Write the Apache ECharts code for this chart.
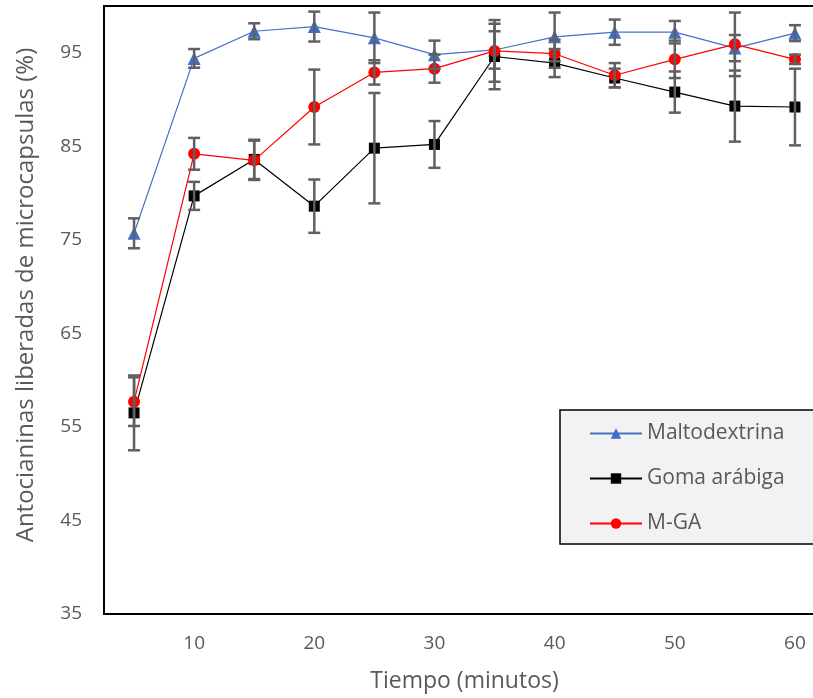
<!DOCTYPE html>
<html><head><meta charset="utf-8">
<script src="https://cdn.jsdelivr.net/npm/echarts@6/dist/echarts.min.js"></script>
<style>html,body{margin:0;padding:0;background:#fff}#c{width:813px;height:698px}</style>
</head><body><div id="c"></div>
<script>
const tiempo = [5, 10, 15, 20, 25, 30, 35, 40, 45, 50, 55, 60];
const xTicks = [10, 20, 30, 40, 50, 60];
const yTicks = [35, 45, 55, 65, 75, 85, 95];

const maltodextrina    = [75.7, 94.4, 97.3, 97.8, 96.6, 94.8, 95.3, 96.7, 97.2, 97.2, 95.5, 97.1];
const maltodextrinaErr = [1.6, 1.0, 0.85, 1.6, 2.7, 1.5, 2.0, 2.6, 1.35, 1.2, 1.4, 0.85];

const gomaArabiga    = [56.5, 79.7, 83.6, 78.6, 84.8, 85.2, 94.6, 93.9, 92.3, 90.8, 89.3, 89.2];
const gomaArabigaErr = [4.0, 1.5, 2.1, 2.85, 5.9, 2.5, 3.5, 1.5, 1.0, 2.2, 3.8, 4.1];

const mga    = [57.7, 84.2, 83.5, 89.2, 92.9, 93.3, 95.2, 94.9, 92.6, 94.3, 95.9, 94.3];
const mgaErr = [2.6, 1.7, 2.1, 4.0, 1.3, 1.5, 3.3, 1.5, 1.3, 2.0, 3.4, 0.5];

const seriesNames = ['Maltodextrina', 'Goma arábiga', 'M-GA'];

const FONT = 'Open Sans';
const TXT = '#595959';

function errRender(params, api) {
  const x = api.value(0), y = api.value(1), e = api.value(2);
  const top = api.coord([x, y + e]);
  const bot = api.coord([x, y - e]);
  const hw = 6;
  const style = { stroke: '#606060', lineWidth: 2.5 };
  return {
    type: 'group',
    children: [
      { type: 'line', shape: { x1: top[0], y1: top[1], x2: bot[0], y2: bot[1] }, style: style },
      { type: 'line', shape: { x1: top[0] - hw, y1: top[1], x2: top[0] + hw, y2: top[1] }, style: style },
      { type: 'line', shape: { x1: bot[0] - hw, y1: bot[1], x2: bot[0] + hw, y2: bot[1] }, style: style }
    ]
  };
}

function pairs(vals) { return tiempo.map((t, i) => [t, vals[i]]); }
function errData(vals, errs) { return tiempo.map((t, i) => [t, vals[i], errs[i]]); }

const chart = echarts.init(document.getElementById('c'), null, { renderer: 'canvas' });
chart.setOption({
  animation: false,
  backgroundColor: '#ffffff',
  textStyle: { fontFamily: FONT },
  grid: { left: 104, top: 6, bottom: 84, right: -12, outerBoundsMode: 'none', containLabel: false,
          show: true, borderColor: '#000', borderWidth: 2, backgroundColor: 'transparent' },
  xAxis: {
    type: 'value', min: 2.5, max: 62.5,
    name: 'Tiempo (minutos)', nameLocation: 'middle', nameGap: 56,
    nameTextStyle: { color: TXT, fontSize: 23, fontFamily: FONT },
    axisLine: { show: true, lineStyle: { color: '#000', width: 2 } },
    axisTick: { show: false },
    splitLine: { show: false },
    axisLabel: { customValues: xTicks, color: TXT, fontSize: 19, margin: 20, fontFamily: FONT }
  },
  yAxis: {
    type: 'value', min: 35, max: 100,
    name: 'Antocianinas liberadas de microcapsulas (%)', nameLocation: 'middle', nameGap: 66,
    nameTextStyle: { color: TXT, fontSize: 24, fontFamily: FONT, padding: [0, 0, 0, 30] },
    axisLine: { show: true, lineStyle: { color: '#000', width: 2 } },
    axisTick: { show: false },
    splitLine: { show: false },
    axisLabel: { customValues: yTicks, color: TXT, fontSize: 19, margin: 22, fontFamily: FONT }
  },
  legend: {
    data: seriesNames,
    orient: 'vertical', left: 560, top: 410,
    padding: [13, 30, 10, 29],
    itemWidth: 52, itemHeight: 13, itemGap: 24,
    backgroundColor: '#f2f2f2', borderColor: '#000', borderWidth: 1.5, borderRadius: 0,
    textStyle: { color: TXT, fontSize: 21, fontFamily: FONT }
  },
  series: [
    { name: seriesNames[0], type: 'line', data: pairs(maltodextrina), symbol: 'triangle', symbolSize: 13,
      itemStyle: { color: '#3f6fc6' }, lineStyle: { color: '#4472C4', width: 1.2 }, z: 2 },
    { name: seriesNames[1], type: 'line', data: pairs(gomaArabiga), symbol: 'rect', symbolSize: 11,
      itemStyle: { color: '#000' }, lineStyle: { color: '#000', width: 1.2 }, z: 3 },
    { name: seriesNames[2], type: 'line', data: pairs(mga), symbol: 'circle', symbolSize: 12,
      itemStyle: { color: '#ff0000' }, lineStyle: { color: '#ff0000', width: 1.2 }, z: 4 },
    { type: 'custom', renderItem: errRender, data: errData(maltodextrina, maltodextrinaErr), z: 5, silent: true },
    { type: 'custom', renderItem: errRender, data: errData(gomaArabiga, gomaArabigaErr), z: 6, silent: true },
    { type: 'custom', renderItem: errRender, data: errData(mga, mgaErr), z: 7, silent: true }
  ]
});
</script>
</body></html>
